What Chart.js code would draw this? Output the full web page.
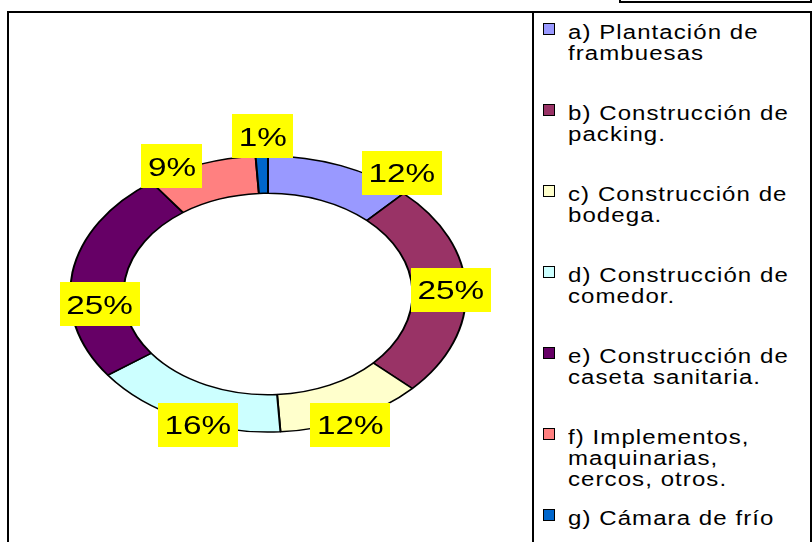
<!DOCTYPE html>
<html>
<head>
<meta charset="utf-8">
<script src="https://cdn.jsdelivr.net/npm/chart.js@4"></script>
<style>
html,body{margin:0;padding:0;background:#fff;width:812px;height:542px;overflow:hidden;}
#wrap{position:relative;width:812px;height:542px;overflow:hidden;}
#c{position:absolute;left:0;top:0;}
.frame{position:absolute;box-sizing:border-box;border:0 solid #000;}
#outer{left:7px;top:11px;width:830px;height:600px;border-left-width:2px;border-top-width:2px;}
#legbox{left:532px;top:11px;width:280px;height:600px;border-left-width:2px;border-top-width:2px;border-right-width:2px;}
#topbox{left:619px;top:-10px;width:193px;height:13px;border-left-width:2px;border-bottom-width:2px;border-right-width:2px;}
.item{position:absolute;left:543px;font-family:"Liberation Sans",Arial,sans-serif;font-size:20px;line-height:21px;color:#000;}
.sw{position:absolute;left:0;width:12px;height:12px;box-sizing:border-box;border:1px solid #000;}
.txt{position:absolute;left:25px;white-space:nowrap;transform:scaleX(1.2);transform-origin:0 0;letter-spacing:0.9px;}
</style>
</head>
<body>
<div id="wrap">
  <div class="frame" id="outer"></div>
  <div class="frame" id="legbox"></div>
  <div class="frame" id="topbox"></div>
  <div id="legend"></div>
  <canvas id="c" width="812" height="542"></canvas>
</div>
<script>
// ---- data ----
const categories = [
  ["a) Plantación de", "frambuesas"],
  ["b) Construcción de", "packing."],
  ["c) Construcción de", "bodega."],
  ["d) Construcción de", "comedor."],
  ["e) Construcción de", "caseta sanitaria."],
  ["f) Implementos,", "maquinarias,", "cercos, otros."],
  ["g) Cámara de frío"]
];
const values = [12, 25, 12, 16, 25, 9, 1];
const colors = ["#9999FF", "#993366", "#FFFFCC", "#CCFFFF", "#660066", "#FF8080", "#0066CC"];

// label offsets (px) relative to the slice's outer mid-point
const labelOffsets = [[61,7],[-15,0],[-2,6],[14,6],[27,32],[-29,2],[1,-20]];
const squashY = 138/198;

// ---- legend (HTML, built from data) ----
const legend = document.getElementById('legend');
const firstBaseline = 39, pitch = 81;
categories.forEach((lines, i) => {
  const base = firstBaseline + i * pitch;
  const item = document.createElement('div');
  item.className = 'item';
  item.style.top = (base - 17) + 'px';
  const sw = document.createElement('div');
  sw.className = 'sw';
  sw.style.top = '1px';
  sw.style.background = colors[i];
  item.appendChild(sw);
  const t = document.createElement('div');
  t.className = 'txt';
  t.innerHTML = lines.map(s => s.replace(/&/g,'&amp;')).join('<br>');
  item.appendChild(t);
  legend.appendChild(item);
});

// ---- plugins ----
const squash = {
  id: 'squash',
  beforeDatasetsDraw(chart) {
    const a = chart.chartArea;
    const cx = (a.left + a.right) / 2, cy = (a.top + a.bottom) / 2;
    const ctx = chart.ctx;
    ctx.save();
    ctx.translate(cx, cy);
    ctx.scale(1, squashY);
    ctx.translate(-cx, -cy);
  },
  afterDatasetsDraw(chart) {
    chart.ctx.restore();
  }
};

const pctLabels = {
  id: 'pctLabels',
  afterDraw(chart) {
    const ctx = chart.ctx;
    const meta = chart.getDatasetMeta(0);
    const ds = chart.data.datasets[0].data;
    const sx = 1.28;
    meta.data.forEach((arc, i) => {
      const p = arc.getProps(['x','y','startAngle','endAngle','outerRadius'], true);
      const mid = (p.startAngle + p.endAngle) / 2;
      const px = p.x + Math.cos(mid) * p.outerRadius + labelOffsets[i][0];
      const py = p.y + Math.sin(mid) * p.outerRadius * squashY + labelOffsets[i][1];
      const text = ds[i] + '%';
      ctx.save();
      ctx.font = '26px "Liberation Sans", Arial, sans-serif';
      const w = ctx.measureText(text).width * sx + 13;
      const h = 44;
      ctx.fillStyle = '#FFFF00';
      ctx.fillRect(Math.round(px - w / 2), Math.round(py - h / 2), Math.round(w), h);
      ctx.translate(px, py + 9.5);
      ctx.scale(sx, 1);
      ctx.fillStyle = '#000';
      ctx.textAlign = 'center';
      ctx.textBaseline = 'alphabetic';
      ctx.fillText(text, 0, 0);
      ctx.restore();
    });
  }
};

new Chart(document.getElementById('c'), {
  type: 'doughnut',
  data: {
    labels: categories.map(l => l.join(' ')),
    datasets: [{
      data: values,
      backgroundColor: colors,
      borderColor: '#000',
      borderWidth: 2
    }]
  },
  options: {
    responsive: false,
    devicePixelRatio: 1,
    animation: false,
    radius: 198,
    cutout: '73%',
    layout: { padding: { left: 0, right: 276, top: 46, bottom: 0 } },
    plugins: {
      legend: { display: false },
      tooltip: { enabled: false }
    },
    events: []
  },
  plugins: [squash, pctLabels]
});
</script>
</body>
</html>
